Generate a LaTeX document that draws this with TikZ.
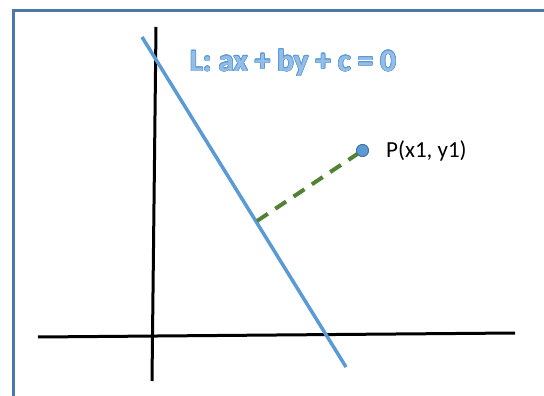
\documentclass[tikz,border=0pt]{standalone}
\usepackage{fontspec}
\setmainfont{Carlito}
\usepackage{contour}
\contourlength{0.6pt}
\definecolor{framec}{HTML}{4A78A8}
\definecolor{linec}{HTML}{5B9BD5}
\definecolor{greenc}{HTML}{548235}
\definecolor{ptedge}{HTML}{41719C}
\definecolor{titlefill}{HTML}{94BDE8}
\definecolor{titleedge}{HTML}{5B9BD5}
\tikzset{
  axis/.style={line width=3pt, black},
  lineL/.style={line width=3.5pt, linec},
  perp/.style={line width=4pt, greenc, dash pattern=on 13pt off 9pt},
  ptdot/.style={circle, fill=linec, draw=ptedge, line width=0.8pt, minimum size=12pt, inner sep=0pt},
  lbl/.style={font=\fontsize{23}{26}\selectfont, anchor=west, inner sep=0pt},
  ttl/.style={font=\fontsize{31}{35}\selectfont\bfseries, inner sep=0pt}
}
\begin{document}
\begin{tikzpicture}[x=1pt,y=-1pt]
\useasboundingbox (0,0) rectangle (544,396);
\clip (0,0) rectangle (544,396);
\fill[white] (0,0) rectangle (544,396);
\draw[framec, line width=3.5pt] (13.5,10.7) rectangle (600,450);
% axes
\coordinate (xl) at (38,337);
\coordinate (xr) at (515,333);
\coordinate (yt) at (156,27);
\coordinate (yb) at (152,381);
\draw[axis] (xl) -- (xr);
\draw[axis] (yt) -- (yb);
% line L
\coordinate (Lt) at (142,37);
\coordinate (Lb) at (346,367);
\draw[lineL] (Lt) -- (Lb);
% point and perpendicular
\coordinate (F) at (257,221);
\node[ptdot] (P) at (362.5,150.5) {};
\draw[perp] (F) -- (P.center);
\node[ptdot] at (P) {};
\node[lbl] (Pl) at (386,151) {P(x1, y1)};
% title
\node[ttl] (T) at (293,63) {\contour{titleedge}{\textcolor{titlefill}{L: ax + by + c = 0}}};
\end{tikzpicture}
\end{document}
